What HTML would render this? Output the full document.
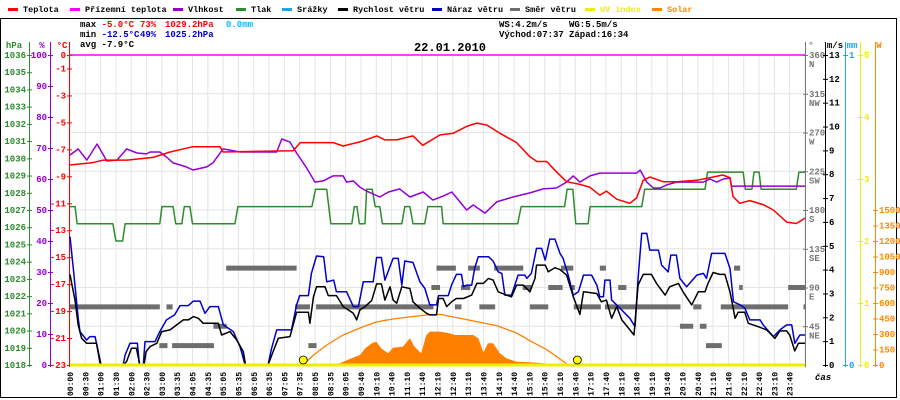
<!DOCTYPE html>
<html><head><meta charset="utf-8"><style>
html,body{margin:0;padding:0;background:#fff;}
svg{display:block;font-family:"Liberation Mono",monospace;}
</style></head><body>
<svg id="c" width="900" height="400" viewBox="0 0 900 400">
<rect x="0" y="0" width="900" height="400" fill="#fff"/>
<rect x="0.5" y="18.5" width="896" height="379" fill="none" stroke="#000"/>
<g id="legend" font-size="8.5" font-weight="bold"></g>
<g font-size="9" font-weight="bold">
<text x="80" y="27" fill="#000">max <tspan fill="#f00">-5.0°C</tspan><tspan fill="#f00" x="140">73%</tspan><tspan fill="#f00" x="165">1029.2hPa</tspan><tspan fill="#00bfff" x="226">0.0mm</tspan></text>
<text x="80" y="37" fill="#000">min <tspan fill="#00c">-12.5°C</tspan><tspan fill="#00c" x="140">49%</tspan><tspan fill="#00c" x="165">1025.2hPa</tspan></text>
<text x="80" y="47" fill="#000">avg -7.9°C</text>
<text x="499" y="27" fill="#000">WS:4.2m/s</text>
<text x="569" y="27" fill="#000">WG:5.5m/s</text>
<text x="499" y="37" fill="#000">Východ:07:37</text>
<text x="569" y="37" fill="#000">Západ:16:34</text>
</g>
<text x="450" y="51" text-anchor="middle" font-size="12" font-weight="bold">22.01.2010</text>
<g id="grid"></g>
<g id="axes" font-size="9"></g>
<g id="series"></g>
<g id="xlabels" font-size="8" font-weight="bold"></g>
</svg>
<script>
// ---- data ----
const xLabels=["00:00","00:30","01:00","01:30","02:00","02:30","03:00","03:35","04:05","04:35","05:05","05:35","06:05","06:35","07:05","07:35","08:05","08:35","09:05","09:40","10:10","10:40","11:10","11:40","12:10","12:40","13:10","13:40","14:10","14:40","15:10","15:40","16:10","16:40","17:10","17:40","18:10","18:40","19:10","19:40","20:10","20:40","21:10","21:40","22:10","22:40","23:10","23:40"];
const tempT=[0,43,65,112,163,196,241,294,300,437,451,515,535,568,601,617,640,672,691,725,751,777,797,817,842,875,901,915,934,954,973,999,1018,1038,1051,1071,1097,1110,1123,1136,1162,1188,1228,1260,1279,1293,1299,1312,1332,1358,1378,1404,1423,1440];
const tempV=[-8.16,-8.0,-7.8,-7.8,-7.6,-7.2,-6.8,-6.8,-7.2,-7.1,-6.5,-6.5,-6.75,-6.45,-6.0,-6.3,-6.3,-6.0,-6.7,-5.93,-5.8,-5.3,-5.05,-5.2,-5.8,-6.5,-7.55,-7.9,-7.9,-8.7,-9.4,-9.6,-9.8,-10.4,-10.1,-10.7,-11.0,-10.6,-9.3,-9.05,-9.4,-9.4,-9.3,-9.05,-8.9,-9.1,-10.5,-11.0,-10.8,-11.1,-11.5,-12.4,-12.5,-12.1];
const groundT=[0,1440];
const groundV=[0,0];
const humT=[0,16,33,53,72,92,111,131,150,157,176,189,202,228,241,268,280,300,333,405,415,431,444,464,480,496,515,535,542,555,568,581,607,624,646,666,692,711,731,748,777,790,813,836,868,901,927,953,973,986,999,1019,1038,1110,1117,1130,1143,1156,1169,1188,1241,1254,1267,1280,1293,1296,1440];
const humV=[67.7,69.7,66.1,71.3,65.8,66.1,69.7,68.4,68.1,68.7,68.7,67.1,65.2,63.9,62.9,63.9,65.2,69.7,68.7,68.7,72.9,71.9,68.4,63.5,59.0,59.4,61.0,61.0,59.0,59.4,57.4,56.1,54.2,55.8,56.8,54.2,55.8,53.2,54.5,55.8,50.0,51.6,49.0,52.6,54.2,55.5,56.8,57.1,59.0,61.0,59.0,61.0,61.9,61.9,62.9,59.0,57.1,57.1,58.1,59.0,59.0,60.0,59.0,60.0,60.3,57.7,57.7];
const presT=[0,10,14,84,90,103,108,176,180,202,207,219,224,235,240,323,329,474,481,503,511,552,557,562,567,578,581,592,598,607,612,650,656,666,672,695,701,728,731,877,884,969,974,985,991,1015,1019,1120,1126,1244,1249,1319,1323,1336,1340,1350,1354,1423,1428,1440];
const presV=[1027.2,1027.2,1026.2,1026.2,1025.2,1025.2,1026.2,1026.2,1027.2,1027.2,1026.2,1026.2,1027.2,1027.2,1026.2,1026.2,1027.2,1027.2,1028.2,1028.2,1026.2,1026.2,1027.2,1027.2,1026.2,1026.2,1028.2,1028.2,1027.2,1027.2,1026.2,1026.2,1027.2,1027.2,1026.2,1026.2,1027.2,1027.2,1026.2,1026.2,1027.2,1027.2,1028.2,1028.2,1026.2,1026.2,1027.2,1027.2,1028.2,1028.2,1029.2,1029.2,1028.2,1028.2,1029.2,1029.2,1028.2,1028.2,1029.2,1029.2];
const gustT=[0,6.5,16,19.6,32.6,39,49,52,58.8,61,104,108,117.5,132,136,143.7,147,166.5,176,189,205,215.5,232,241.6,254.7,264.5,274,290.6,300.5,320,333,343,388,395,405,434,444,450,467,473,483,497,503,516.6,522,542,555,565,574.6,594,600.7,610,617,633,643,650,656,672,685.6,695.4,705,718,722,741,748,757,767,771,777,787,793,800,820,829,839,846,852,865,878,891,895,904,914,924,931,940,950,960,966,976,986,996,1006,1022,1032,1038,1045,1048,1058,1061,1071,1084,1097,1107,1113,1120,1130,1136,1153,1159,1172,1177,1188,1195,1208,1228,1241,1247,1257,1283,1293,1300,1313,1322,1332,1352,1358,1378,1391,1404,1414,1420,1430,1440];
const gustV=[5.38,4.05,1.96,1.4,1.05,1.19,1.19,0.91,0.07,0,0,0.42,0.91,0.91,0,0,0.98,0.98,1.4,1.89,2.1,2.49,2.49,2.68,2.68,2.17,2.45,2.45,1.68,1.4,0.77,0,0,0.7,1.47,1.47,2.52,2.91,2.91,3.84,4.57,4.54,3.49,3.56,3.07,3.07,2.45,2.45,3.49,3.49,4.51,4.51,3.56,4.47,4.47,3.35,4.36,4.3,3.49,3.21,2.52,2.52,2.91,2.91,3.38,3.8,3.8,3.28,3.35,3.35,4.08,4.54,4.54,4.36,3.91,3.84,2.93,2.93,3.77,3.77,3.63,3.84,4.89,4.89,4.4,5.28,5.28,4.68,4.47,3.77,2.93,3.07,3.77,3.77,3.35,2.86,2.86,3.56,3.56,2.72,2.52,2.24,1.96,1.61,3.63,5.52,5.52,4.82,4.82,4.19,3.91,4.61,4.61,3.63,3.28,3.77,3.84,3.63,4.68,4.68,4.05,2.65,2.52,2.38,1.89,1.89,1.68,1.19,1.47,1.68,1.68,0.91,1.26,1.26];
const windT=[0,9.8,16,22.8,32.6,52,58.8,61,104,110.7,120.5,130,137,145,149,157,170,179.6,196,209,222,232,241.6,251.5,261,290.6,297,313.5,326.5,339.6,344,388,398,408,431,444,467,470,477,483,499.6,506,522,535.5,555,561.6,568,578,591,600.7,610,617,627,633,640,650,666,672,685.6,698.6,705,718,722,731,738,748,757,771,787,797,810,820,829,839,855,865,875,888,901,911,914,931,937,950,960,973,986,999,1006,1032,1041,1051,1061,1071,1081,1097,1105,1113,1123,1139,1149,1166,1175,1192,1201,1218,1231,1244,1250,1260,1273,1283,1293,1303,1309,1322,1329,1348,1365,1381,1391,1404,1410,1420,1427,1440];
const windV=[3.79,2.72,1.68,1.12,0.91,0.91,0.21,0,0,0.14,0.7,0.7,0,0,0.56,0.77,0.91,1.4,1.47,1.68,1.89,1.89,2.03,1.96,1.75,1.75,1.26,1.4,1.05,0.56,0,0,0.56,1.12,1.19,2.21,2.21,1.75,2.87,3.28,3.28,2.91,2.91,2.45,2.17,1.89,2.31,2.45,2.7,3.4,3.4,2.72,3.28,2.72,2.59,3.28,3.21,2.65,2.38,2.17,2.1,2.1,2.79,2.79,2.45,2.66,2.79,2.79,2.93,3.42,3.42,3.63,3.56,3.07,2.93,2.86,3.35,3.35,3.07,3.63,4.19,4.19,3.91,4.08,4.0,3.77,2.86,2.12,3.07,3.0,2.65,2.72,1.96,2.45,1.89,1.47,1.26,3.35,3.8,3.8,3.42,2.93,3.28,3.42,3.07,2.52,3.07,3.07,3.42,3.88,3.8,3.8,3.07,1.96,2.21,2.21,1.75,1.61,1.47,1.12,1.43,1.43,1.26,0.59,0.91,0.91];
const dirStart=[0,189,175,200,281,306,441,482,467,711,718,708,720,754,766,780,802,831,887,901,937,962,983,987,1038,1048,1074,1089,1195,1221,1234,1246,1275,1301,1311,1407,1437];
const dirEnd=[176,201,191,282,307,444,470,712,483,725,725,722,756,767,784,803,833,888,904,937,965,986,989,1040,1050,1090,1090,1196,1221,1237,1247,1277,1407,1313,1318,1440,1440];
const dirVal=[67.5,67.5,22.5,22.5,45,112.5,67.5,67.5,22.5,90,112.5,90,112.5,67.5,90,112.5,67.5,112.5,90,67.5,90,112.5,90,67.5,112.5,67.5,90,67.5,45,67.5,45,22.5,67.5,112.5,90,90,67.5];
const solarMaxT=[457,477,503,535,568,600,633,666,698,725,771,836,875,901,934,960,976];
const solarMaxW=[0,97,194,290,358,416,445,465,484,490,445,381,310,235,148,58,0];
const solarT=[463,528,548,568,578,591,600,610,623,633,652,666,675,688,698,705,725,744,754,790,800,810,819,829,842,855,875,901,927,966,973];
const solarW=[5,15,58,97,160,210,226,160,113,168,177,258,177,113,290,323,323,306,290,290,258,122,210,210,113,65,32,26,16,6,0];
const uvT=[0,1440];
const uvV=[0,0];
const sunEventT=[457,994];

// ---- scales ----
const X0=70,X1=805,Y0=55,Y1=365;
const xT=t=>X0+t/1440*(X1-X0);
const yC=v=>Y0-v*(Y1-Y0)/23;
const yH=v=>Y1-v*(Y1-Y0)/100;
const yP=v=>Y1-(v-1018)*(Y1-Y0)/18;
const yV=v=>Y1-v*(Y1-Y0)/13;
const yD=v=>Y1-v*(Y1-Y0)/360;
const yW=v=>Y1-v*155/1500;
const yU=v=>Y1-v*62;
const NS="http://www.w3.org/2000/svg";
function mk(tag,attrs,parent){const e=document.createElementNS(NS,tag);for(const k in attrs)e.setAttribute(k,attrs[k]);parent.appendChild(e);return e;}
const G=document.getElementById('grid'),A=document.getElementById('axes'),S=document.getElementById('series'),XL=document.getElementById('xlabels'),L=document.getElementById('legend');

for(let i=0;i<=48;i++){const x=X0+i*(X1-X0)/48;
 const l=mk('line',{x1:x,x2:x,y1:Y0,y2:Y1,stroke:'#e4e4e4','stroke-width':1},G);
 
 }
for(let k=0;k<=8;k++){const y=Y0+k*(Y1-Y0)/8;
 const l=mk('line',{x1:X0,x2:X1,y1:y,y2:y,stroke:'#e4e4e4','stroke-width':1},G);
 
 }

function axis(x,color,vals,yf,fmt,side,name,unit,ux){
 const g=mk('g',{},A);
 
 
 mk('line',{x1:x+0.5,x2:x+0.5,y1:42,y2:Y1+2,stroke:color,'stroke-width':1},g);
 mk('text',{x:ux,y:48,fill:color,'text-anchor':'middle','font-weight':'bold'},g).textContent=unit;
 vals.forEach(v=>{const y=yf(v);
  mk('line',{x1:x-2,x2:x+3,y1:y+0.5,y2:y+0.5,stroke:color},g);
  const t=mk('text',{x:side<0?x-3:x+4,y:y+3,fill:color,'text-anchor':side<0?'end':'start','font-weight':'bold'},g);
  t.textContent=fmt(v);});
 return g;}
const hpaTicks=[];for(let p=1018;p<=1036;p++)hpaTicks.push(p);
const humTicks=[0,10,20,30,40,50,60,70,80,90,100];
const tempTicks=[0,-1,-3,-5,-7,-9,-11,-13,-15,-17,-19,-21,-23];
axis(29,'#2e8b2e',hpaTicks,yP,v=>v,-1,'pressure-axis','hPa',14);
axis(50,'#9400d3',humTicks,yH,v=>v,-1,'humidity-axis','%',42);
axis(69,'#f00',tempTicks,yC,v=>v,-1,'temperature-axis','°C',62);
const dirTicks=[360,315,270,225,180,135,90,45];const dirNames={360:'N',315:'NW',270:'W',225:'SW',180:'S',135:'SE',90:'E',45:'NE'};
const dg=axis(805,'#777',dirTicks,yD,v=>v,1,'direction-axis','°',811);
dirTicks.forEach(v=>{mk('text',{x:809,y:yD(v)+12,fill:'#777','font-weight':'bold'},dg).textContent=dirNames[v];});
const msTicks=[];for(let v=0;v<=13;v++)msTicks.push(v);
axis(825,'#000',msTicks,yV,v=>v,1,'wind-speed-axis','m/s',835);
axis(845,'#1ea7e0',[0,1],v=>Y1-v*(Y1-Y0),v=>v,1,'rain-axis','mm',852);
axis(860,'#ee0',[0,1,2,3,4,5],yU,v=>v,1,'uv-axis','',860);
const wTicks=[0,150,300,450,600,750,900,1050,1200,1350,1500];
axis(875,'#f80',wTicks,yW,v=>v,1,'solar-axis','W',879);
mk('text',{x:815,y:380,'font-size':9,'font-weight':'bold','font-style':'italic'},A).textContent='čas';

xLabels.forEach((s,i)=>{const x=X0+i*(X1-X0)/48+3;
 const t=mk('text',{x:0,y:0,transform:`translate(${x},396) rotate(-90)`},XL);
 t.textContent=s;
 
 });

function pts(T,V,yf){return T.map((t,i)=>xT(t).toFixed(1)+','+yf(V[i]).toFixed(1)).join(' ');}
function line(T,V,yf,color,w,name){const p=mk('polyline',{points:pts(T,V,yf),fill:'none',stroke:color,'stroke-width':w,'stroke-linejoin':'round'},S);
 
 return p;}
const sp=mk('polygon',{points:xT(solarT[0])+','+Y1+' '+pts(solarT,solarW,yW)+' '+xT(solarT[solarT.length-1])+','+Y1,fill:'#ff8000',stroke:'none'},S);


line(solarMaxT,solarMaxW,yW,'#ff8000',1.3,'solar-max-curve');
dirVal.forEach((d,i)=>{const r=mk('rect',{x:xT(dirStart[i]),y:yD(d)-2.5,width:Math.max(2,xT(dirEnd[i])-xT(dirStart[i])),height:5,fill:'#6e6e6e'},S);
 
 });
line(presT,presV,yP,'#2e8b2e',1.5,'pressure-line');
line(humT,humV,yH,'#9400d3',1.5,'humidity-line');
line(tempT,tempV,yC,'#f00',1.5,'temperature-line');
line(groundT,groundV,yC,'#f0f',1.5,'ground-temperature-line');
line(gustT,gustV,yV,'#0000cc',1.5,'wind-gust-line');
line(windT,windV,yV,'#000',1.5,'wind-speed-line');
line(uvT,uvV,yU,'#ee0',3,'uv-index-line');
sunEventT.forEach(t=>{const c=mk('circle',{cx:xT(t),cy:Y1-5,r:4,fill:'#ff0',stroke:'#000','stroke-width':0.8},S);
 
 });

const legNames=['Teplota','Přízemní teplota','Vlhkost','Tlak','Srážky','Rychlost větru','Náraz větru','Směr větru','UV index','Solar'];
const legColors=['#f00','#f0f','#9400d3','#2e8b2e','#1ea7e0','#000','#0000cc','#6e6e6e','#ee0','#f80'];
const legX=[8,70,173,236,282,338,432,510,585,652];
legNames.forEach((n,i)=>{const g=mk('g',{},L);
 
 
 mk('rect',{x:legX[i],y:8,width:10,height:3,fill:legColors[i]},g);
 mk('text',{x:legX[i]+15,y:12,fill:i>=8?legColors[i]:'#000'},g).textContent=n;});
</script>
</body></html>
